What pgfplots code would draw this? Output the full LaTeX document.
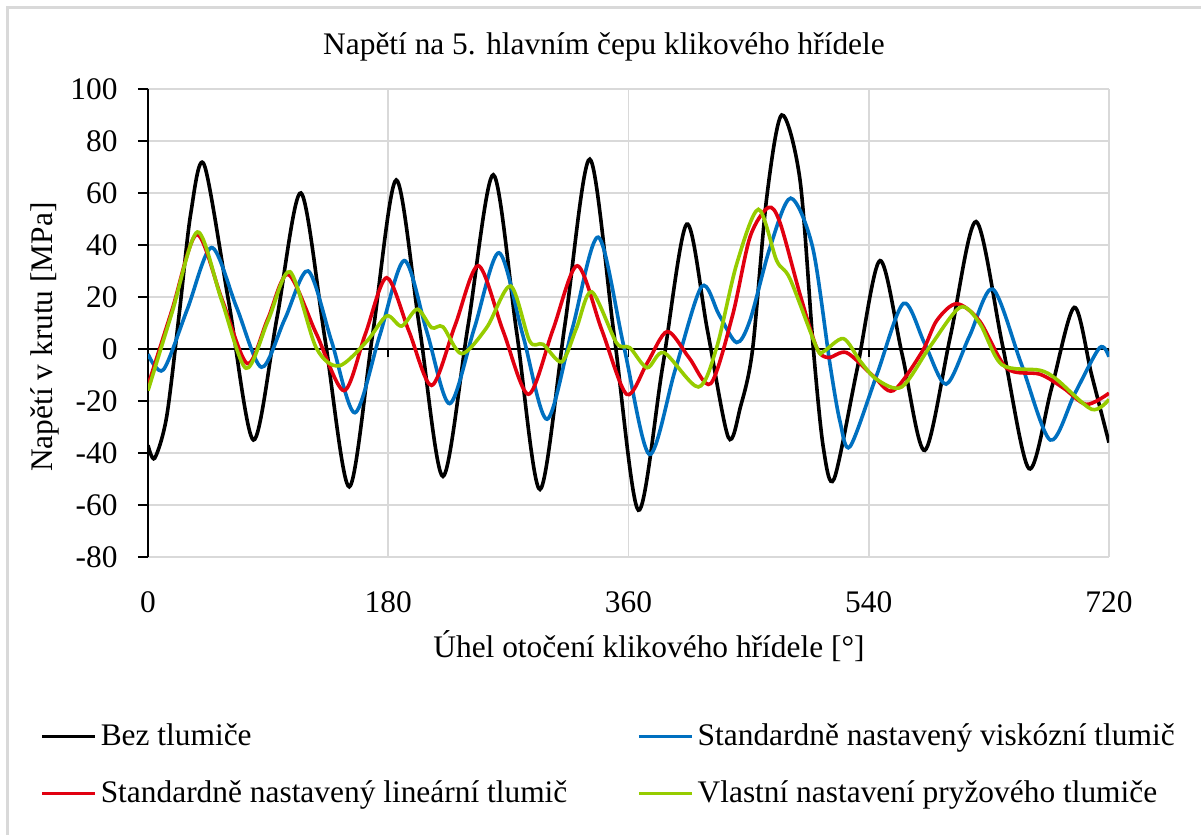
\documentclass[border=0pt]{standalone}
\usepackage{fontspec}
\setmainfont{Liberation Serif}
\usepackage{pgfplots}
\pgfplotsset{compat=1.18}
\newcommand\fs{\fontsize{15.7}{18.8}\selectfont}
\definecolor{cBlack}{RGB}{0,0,0}
\definecolor{cBlue}{RGB}{0,112,192}
\definecolor{cRed}{RGB}{225,0,16}
\definecolor{cGreen}{RGB}{150,204,0}
\definecolor{gridgray}{RGB}{217,217,217}

\begin{document}
\begin{tikzpicture}
\useasboundingbox (0,0) rectangle (600.5pt,417.5pt);
\draw[gridgray, line width=1.5pt] (3.75pt,-20pt) rectangle (620pt,413.75pt);
\begin{axis}[
  at={(74pt,139pt)}, anchor=south west,
  scale only axis, width=480.5pt, height=234pt,
  xmin=0, xmax=720, ymin=-80, ymax=100,
  xtick={0,180,360,540,720}, xticklabels={0,180,360,540,720},
  ytick={-80,-60,-40,-20,0,20,40,60,80,100},
  yticklabels={-80,-60,-40,-20,0,20,40,60,80,100},
  axis x line*=bottom, axis y line*=left,
  axis line style={-},
  x axis line style={draw=none},
  y axis line style={black, line width=0.8pt},
  xtick align=inside, xtick style={draw=none},
  ytick align=outside, ytick style={black, line width=0.8pt},
  major tick length=5pt,
  grid=major, major grid style={gridgray, line width=0.8pt},
  tick label style={font=\fs},
  xticklabel style={anchor=base, yshift=-28pt},
  yticklabel style={anchor=east, inner sep=0pt, xshift=-10pt},
  title={Napětí na 5. hlavním čepu klikového hřídele},
  title style={font=\fs, at={(axis description cs:0.4745,1)}, anchor=base, yshift=11pt},
  xlabel={Úhel otočení klikového hřídele [°]},
  xlabel style={font=\fs, at={(axis description cs:0.5213,0)}, anchor=base, yshift=-50.5pt},
  ylabel={Napětí v krutu [MPa]},
  ylabel style={font=\fs, at={(axis description cs:-0.1072,0.470)}, anchor=center},
  legend columns=2, legend cell align=left,
  legend image code/.code={\draw[#1, line width=1.7pt] (0pt,0pt) -- (26.5pt,0pt);},
  legend style={font=\fs, draw=none, fill=none, inner sep=0pt,
    at={(axis description cs:-0.1124,-0.4444)}, anchor=west,
    row sep=12pt, nodes={inner sep=2pt},
    /tikz/every even column/.append style={column sep=33pt}},
  every axis plot/.append style={line width=1.8pt, smooth, mark=none},
]
\draw[black, line width=0.8pt] (axis cs:0,0) -- (axis cs:720,0);
\pgfplotsinvokeforeach{180,360,540,720}{\draw[black, line width=0.8pt] (axis cs:#1,0) -- ++(0pt,-4pt);}

% Bez tlumice
\addplot[cBlack] coordinates {
(0,-37) (5,-42) (14,-26) (23.5,14) (32,52) (42,71) (60.5,18) (79,-35)
(96.8,12.5) (114.6,60) (132.7,3.5) (150.8,-53) (168.4,6) (186,65)
(203.5,8) (221,-49) (239.8,9) (258.7,67) (276.2,6.5) (293.7,-54)
(312.4,9.5) (331,73) (349.2,5.5) (367.4,-62) (385.5,-7) (403.6,48)
(419.2,7) (434.8,-34) (444,-22) (453,0) (463.5,58) (474.8,90)
(488.5,65) (498.5,0) (506,-38) (514,-50) (531.2,-8) (548.4,34)
(565.2,-2.5) (582,-39) (601.2,5) (620.4,49) (640.2,1.5) (660,-46)
(677,-15) (694,16) (707,-10) (720,-36)
};
\addlegendentry{Bez tlumiče}

% viskozni
\addplot[cBlue] coordinates {
(0,-2) (11.5,-8) (29.6,15.5) (47.7,39) (66.4,16) (85,-7) (102.5,11.5)
(120,30) (137.5,3) (155,-24.5) (173.5,5) (192,34) (209,6.5) (226,-21)
(244.5,8) (263,37) (281,5) (299,-27) (318,8) (337.4,43) (356.5,1)
(375.6,-40.5) (395,-8) (414.8,24) (428,13) (441,2.5) (451,11) (466,39)
(481.5,58) (498,39) (511,-6) (518.5,-28) (526,-37.5) (546,-10)
(566,17.5) (582,2) (598,-13.5) (615.5,5) (633,23) (654.5,-6) (676,-35)
(694.5,-17) (713,0.5) (720,-3)
};
\addlegendentry{Standardně nastavený viskózní tlumič}

% linearni
\addplot[cRed] coordinates {
(0,-14) (18,15) (36.5,44) (55.5,19) (74.4,-5.6) (89.7,11.5) (105,28.7)
(126,6) (146.8,-16) (162.8,5.7) (178.8,27.4) (195.6,6.7) (212.5,-14)
(230,9) (247.5,32) (266,7) (285,-17.4) (303.3,7.3) (321.6,32)
(340,7.3) (358.6,-17.4) (374,-5.4) (389,6.7) (405.3,-3.3) (421.6,-13.3)
(438,13) (451,43) (464.7,54.4) (473.5,48.6) (488.5,21) (501,0.5)
(509.7,-3.3) (523.4,-1.4) (543.4,-10.4) (558.4,-16) (580,-1) (591,11)
(605.8,17.4) (623,10.8) (643.4,-7.4) (668.3,-9.7) (685.8,-15)
(703,-21.3) (720,-17)
};
\addlegendentry{Standardně nastavený lineární tlumič}

% pryzovy
\addplot[cGreen] coordinates {
(0,-16) (18,14) (37,45) (55,19) (73.4,-7.4) (90,11) (106.4,29.7)
(126,0.5) (143,-6.5) (164,3) (178.8,12.7) (190,8.8) (201.8,15.3)
(212.5,8.2) (221,8.5) (235,-1.8) (253.7,8.2) (271.7,24.2) (286,3)
(296,1.8) (310,-4.9) (321,8) (332.4,22) (351,2.4) (361,0.5) (374,-7.2)
(386.6,-1.4) (412.3,-14.6) (426,0.5) (441,32.6) (457.3,53.7) (471,34)
(481,27) (501,0.5) (506,-1) (521,4) (533.5,-4.6) (546,-11.7)
(564.7,-14.6) (586,1) (608.4,16) (623,10) (639.6,-6) (668.3,-8.2)
(680.8,-11.7) (707,-23.2) (720,-19.4)
};
\addlegendentry{Vlastní nastavení pryžového tlumiče}
\end{axis}
\end{tikzpicture}
\end{document}
